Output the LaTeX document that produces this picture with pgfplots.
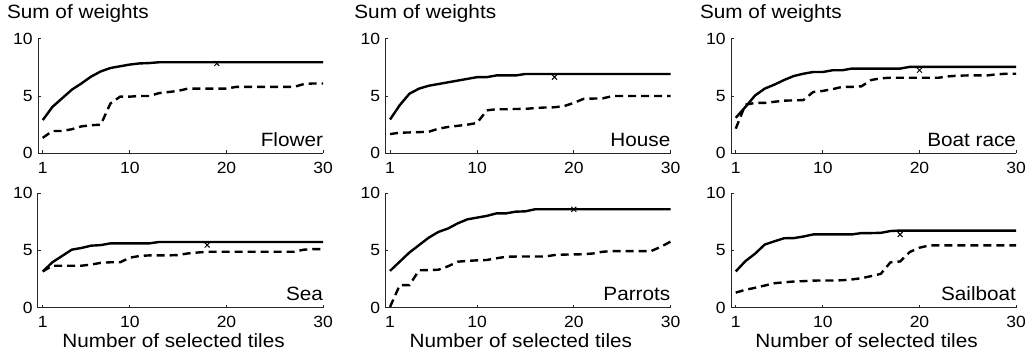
\documentclass[border=0pt]{standalone}
\usepackage{pgfplots}
\usepackage{pgfplotstable}
\usepackage{fontspec}
\pgfplotsset{compat=1.18}
\setmainfont[FakeStretch=1.08]{Liberation Sans}

% columns: number of tiles, proposed method (solid), baseline (dashed)
\pgfplotstableread{
x s d
1 2.90 1.35
2 4.05 1.95
3 4.80 1.95
4 5.55 2.10
5 6.10 2.35
6 6.70 2.45
7 7.15 2.50
8 7.45 4.35
9 7.60 4.95
10 7.75 4.95
11 7.85 5.00
12 7.88 5.00
13 7.95 5.25
14 7.95 5.35
15 7.95 5.45
16 7.95 5.65
17 7.95 5.65
18 7.95 5.65
19 7.95 5.65
20 7.95 5.65
21 7.95 5.80
22 7.95 5.80
23 7.95 5.80
24 7.95 5.80
25 7.95 5.80
26 7.95 5.80
27 7.95 5.80
28 7.95 6.05
29 7.95 6.10
30 7.95 6.10
}\flower
\pgfplotstableread{
x s d
1 2.95 1.68
2 4.20 1.80
3 5.20 1.82
4 5.65 1.85
5 5.90 1.88
6 6.05 2.15
7 6.20 2.30
8 6.35 2.40
9 6.50 2.50
10 6.65 2.65
11 6.65 3.75
12 6.80 3.85
13 6.80 3.85
14 6.80 3.87
15 6.93 3.88
16 6.93 3.95
17 6.93 4.00
18 6.93 4.02
19 6.93 4.12
20 6.93 4.40
21 6.93 4.75
22 6.93 4.78
23 6.93 4.80
24 6.93 5.00
25 6.93 5.00
26 6.93 5.00
27 6.93 5.00
28 6.93 5.00
29 6.93 5.00
30 6.93 5.00
}\house
\pgfplotstableread{
x s d
1 3.10 2.15
2 4.05 4.25
3 5.05 4.40
4 5.65 4.40
5 6.00 4.50
6 6.40 4.60
7 6.75 4.62
8 6.95 4.65
9 7.10 5.35
10 7.10 5.45
11 7.25 5.60
12 7.25 5.80
13 7.40 5.80
14 7.40 5.85
15 7.40 6.40
16 7.40 6.55
17 7.40 6.60
18 7.40 6.60
19 7.55 6.60
20 7.55 6.60
21 7.55 6.60
22 7.55 6.60
23 7.55 6.72
24 7.55 6.78
25 7.55 6.80
26 7.55 6.80
27 7.55 6.80
28 7.55 6.90
29 7.55 6.95
30 7.55 6.95
}\boatrace
\pgfplotstableread{
x s d
1 3.15 3.15
2 3.95 3.65
3 4.50 3.65
4 5.05 3.65
5 5.20 3.65
6 5.40 3.75
7 5.45 3.90
8 5.60 3.95
9 5.60 3.95
10 5.60 4.35
11 5.60 4.50
12 5.60 4.55
13 5.72 4.55
14 5.72 4.55
15 5.72 4.58
16 5.72 4.72
17 5.72 4.80
18 5.72 4.87
19 5.72 4.87
20 5.72 4.87
21 5.72 4.87
22 5.72 4.87
23 5.72 4.87
24 5.72 4.87
25 5.72 4.87
26 5.72 4.87
27 5.72 4.87
28 5.72 5.05
29 5.72 5.10
30 5.72 5.10
}\sea
\pgfplotstableread{
x s d
1 3.20 0.05
2 4.00 1.95
3 4.80 1.95
4 5.45 3.25
5 6.10 3.27
6 6.60 3.30
7 6.90 3.60
8 7.35 4.00
9 7.70 4.07
10 7.85 4.12
11 8.00 4.15
12 8.22 4.30
13 8.22 4.43
14 8.37 4.45
15 8.40 4.45
16 8.58 4.45
17 8.58 4.45
18 8.58 4.58
19 8.58 4.62
20 8.58 4.64
21 8.58 4.65
22 8.58 4.72
23 8.58 4.87
24 8.58 4.93
25 8.58 4.93
26 8.58 4.93
27 8.58 4.93
28 8.58 4.93
29 8.58 5.30
30 8.58 5.75
}\parrots
\pgfplotstableread{
x s d
1 3.15 1.30
2 4.05 1.55
3 4.70 1.72
4 5.50 1.92
5 5.78 2.12
6 6.05 2.20
7 6.06 2.27
8 6.20 2.30
9 6.38 2.35
10 6.38 2.36
11 6.38 2.36
12 6.38 2.38
13 6.38 2.45
14 6.50 2.56
15 6.50 2.74
16 6.52 2.94
17 6.68 3.95
18 6.72 4.02
19 6.72 4.85
20 6.72 5.22
21 6.72 5.42
22 6.72 5.42
23 6.72 5.42
24 6.72 5.42
25 6.72 5.42
26 6.72 5.42
27 6.72 5.42
28 6.72 5.42
29 6.72 5.42
30 6.72 5.42
}\sailboat

\pgfplotsset{
  tilepanel/.style={
    scale only axis, width=285.3pt, height=114.5pt,
    anchor=south west, clip=false,
    xmin=0.5, xmax=30, ymin=0, ymax=10,
    axis x line*=bottom, axis y line*=left,
    axis line style={line width=0.8pt, black!85},
    xtick={1,10,20,30}, ytick={0,5,10},
    tick align=inside, major tick length=3pt,
    tick style={line width=0.6pt, black!85},
    /pgf/number format/assume math mode=true,
    ticklabel style={font=\fontsize{16.2}{18}\selectfont},
    xticklabel style={anchor=base, yshift=-20pt, inner sep=0pt},
    yticklabel style={anchor=east, inner sep=5pt},
  },
  solidcurve/.style={black, line width=2.4pt, no marks, line join=round},
  dashedcurve/.style={black, line width=2.4pt, no marks, dash pattern=on 8pt off 5pt},
  bestmark/.style={black, only marks, mark=x, mark size=3.5pt, mark options={line width=1pt}},
}
\newcommand\lbl{\fontsize{19.2}{21}\selectfont}

% one panel: #1 position, #2 table, #3 name, #4 marked x, #5 marked y, #6 extra content
\newcommand\tilepanel[6]{%
  \begin{axis}[tilepanel, at={#1}]
    \addplot[solidcurve] table[x=x, y=s] {#2};
    \addplot[dashedcurve] table[x=x, y=d] {#2};
    \addplot[bestmark] coordinates {(#4,#5)};
    \node[anchor=base east, inner sep=0pt, font=\lbl] at (rel axis cs:1,0) [yshift=6.6pt] {#3};
    #6
  \end{axis}}

\newcommand\toplabel{\node[anchor=base west, inner sep=0pt, font=\lbl] at (rel axis cs:0,1) [xshift=-31pt, yshift=20pt] {Sum of weights};}
\newcommand\bottomlabel{\node[anchor=base, inner sep=0pt, font=\lbl] at (rel axis cs:0.5,0) [xshift=-7pt, yshift=-39.5pt] {Number of selected tiles};}

\begin{document}
\begin{tikzpicture}[x=1pt, y=1pt]
  \path[use as bounding box] (0,0) rectangle (1034,362);
  \tilepanel{(37.9pt,208.7pt)}{\flower}{Flower}{19}{7.85}{\toplabel}
  \tilepanel{(385.2pt,208.7pt)}{\house}{House}{18}{6.65}{\toplabel}
  \tilepanel{(730.9pt,208.7pt)}{\boatrace}{Boat race}{20}{7.25}{\toplabel}
  \tilepanel{(37.9pt,54.5pt)}{\sea}{Sea}{18}{5.45}{\bottomlabel}
  \tilepanel{(385.2pt,54.5pt)}{\parrots}{Parrots}{20}{8.58}{\bottomlabel}
  \tilepanel{(730.9pt,54.5pt)}{\sailboat}{Sailboat}{18}{6.38}{\bottomlabel}
\end{tikzpicture}
\end{document}
